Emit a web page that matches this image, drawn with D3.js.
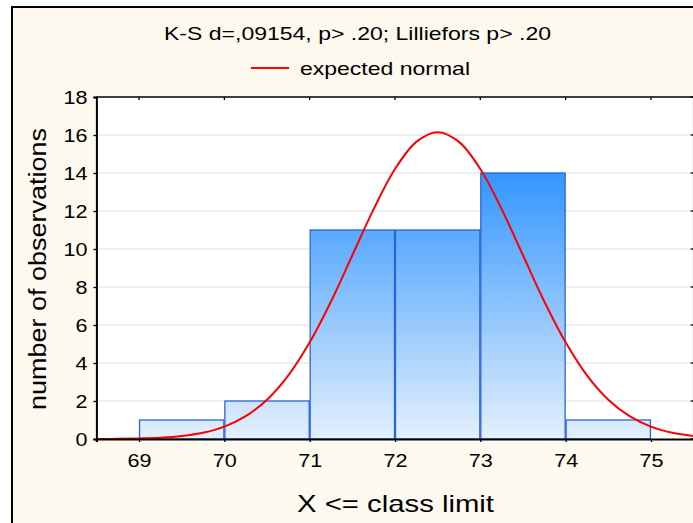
<!DOCTYPE html>
<html><head><meta charset="utf-8">
<script src="https://cdn.jsdelivr.net/npm/d3@7"></script>
<style>
html,body{margin:0;padding:0;background:#fff;}
text{font-family:"Liberation Sans",Arial,sans-serif;fill:#000;}
</style></head>
<body>
<script>
// ---- data ----
const binStart = [69, 70, 71, 72, 73, 74];
const binEnd   = [70, 71, 72, 73, 74, 75];
const counts   = [1, 2, 11, 11, 14, 1];
const xTicks = [69, 70, 71, 72, 73, 74, 75];
const yTicks = [0, 2, 4, 6, 8, 10, 12, 14, 16, 18];
// expected normal curve
const curveX = [68.5,68.75,69,69.25,69.5,69.75,70,70.25,70.5,70.75,71,71.25,71.5,71.75,72,72.25,72.5,72.75,73,73.25,73.5,73.75,74,74.25,74.5,74.75,75,75.25,75.5];
const curveY = [0.00,0.01,0.03,0.07,0.16,0.33,0.65,1.20,2.07,3.35,5.09,7.24,9.67,12.10,14.21,15.64,16.15,15.64,14.21,12.10,9.67,7.24,5.09,3.35,2.07,1.20,0.65,0.33,0.16];
const titleText = "K-S d=,09154, p> .20; Lilliefors p> .20";
const legendText = "expected normal";
const xTitle = "X <= class limit";
const yTitle = "number of observations";

const W = 693, H = 523;
const svg = d3.select("body").append("svg").attr("width", W).attr("height", H);
const defs = svg.append("defs");

// frame
svg.append("rect").attr("x", 12).attr("y", 7).attr("width", 720).attr("height", 540)
  .attr("fill", "#fdf9ee").attr("stroke", "#000").attr("stroke-width", 2);

const plot = {left: 96.4, right: 693.6, top: 97, bottom: 439};
const x = d3.scaleLinear().domain([68.5, 75.5]).range([plot.left, plot.right]);
const y = d3.scaleLinear().domain([0, 18]).range([plot.bottom, plot.top]);

const grad = defs.append("linearGradient").attr("id", "barGrad")
  .attr("gradientUnits", "userSpaceOnUse")
  .attr("x1", 0).attr("x2", 0).attr("y1", y(14)).attr("y2", y(0));
grad.append("stop").attr("offset", "0%").attr("stop-color", "#3396fe");
grad.append("stop").attr("offset", "100%").attr("stop-color", "#e4f0fc");

defs.append("clipPath").attr("id", "clip").append("rect")
  .attr("x", plot.left).attr("y", plot.top).attr("width", plot.right - plot.left).attr("height", plot.bottom - plot.top);

// plot background
svg.append("rect").attr("x", plot.left).attr("y", plot.top)
  .attr("width", plot.right - plot.left).attr("height", plot.bottom - plot.top).attr("fill", "#fff");

// gridlines
svg.append("g").selectAll("line").data(yTicks.filter(d => d > 0 && d < 18)).join("line")
  .attr("x1", plot.left).attr("x2", plot.right)
  .attr("y1", d => y(d)).attr("y2", d => y(d))
  .attr("stroke", "#e0e0e0").attr("stroke-width", 1.2);

// bars
svg.append("g").selectAll("rect").data(counts).join("rect")
  .attr("x", (d, i) => x(binStart[i]) + 0.5)
  .attr("y", d => y(d))
  .attr("width", (d, i) => x(binEnd[i]) - x(binStart[i]) - 1)
  .attr("height", d => y(0) - y(d))
  .attr("fill", "url(#barGrad)")
  .attr("stroke", "#2b64d8").attr("stroke-width", 1.3);

// curve
const line = d3.line().x((d, i) => x(curveX[i])).y(d => y(d)).curve(d3.curveCatmullRom);
svg.append("path").datum(curveY).attr("d", line)
  .attr("fill", "none").attr("stroke", "#ff0000").attr("stroke-width", 2)
  .attr("clip-path", "url(#clip)");

// frame lines of plot
svg.append("line").attr("x1", plot.right).attr("x2", plot.right).attr("y1", plot.top).attr("y2", plot.bottom)
  .attr("stroke", "#b0b0b0").attr("stroke-width", 1.5);
svg.append("line").attr("x1", plot.left).attr("x2", plot.right).attr("y1", plot.top).attr("y2", plot.top)
  .attr("stroke", "#000").attr("stroke-width", 1.5);

// top ticks (inward)
svg.append("g").selectAll("line").data(xTicks).join("line")
  .attr("x1", d => x(d)).attr("x2", d => x(d)).attr("y1", plot.top).attr("y2", plot.top + 3)
  .attr("stroke", "#000").attr("stroke-width", 1.3);
// right ticks (inward)
svg.append("g").selectAll("line").data(yTicks).join("line")
  .attr("x1", plot.right).attr("x2", plot.right - 3).attr("y1", d => y(d)).attr("y2", d => y(d))
  .attr("stroke", "#000").attr("stroke-width", 1.3);

// left axis
const yAxis = d3.axisLeft(y).tickValues(yTicks).tickSize(3).tickPadding(6).tickFormat(d3.format("d"));
const gy = svg.append("g").attr("transform", `translate(${plot.left},0)`).call(yAxis);
gy.select(".domain").attr("stroke", "#000").attr("stroke-width", 2);
gy.selectAll(".tick line").attr("stroke", "#000").attr("stroke-width", 1.3);
gy.selectAll(".tick text").attr("font-size", 18.5).attr("font-family", "Liberation Sans, Arial, sans-serif")
  .attr("dy", "0.36em")
  .attr("textLength", function() { return 12 * this.textContent.length; })
  .attr("lengthAdjust", "spacingAndGlyphs");

// bottom axis
const xAxis = d3.axisBottom(x).tickValues(xTicks).tickSize(3).tickPadding(12).tickFormat(d3.format("d"));
const gx = svg.append("g").attr("transform", `translate(0,${plot.bottom})`).call(xAxis);
gx.select(".domain").attr("stroke", "#000").attr("stroke-width", 2.2);
gx.selectAll(".tick line").attr("stroke", "#000").attr("stroke-width", 1.3);
gx.selectAll(".tick text").attr("font-size", 18.5).attr("font-family", "Liberation Sans, Arial, sans-serif")
  .attr("textLength", function() { return 12 * this.textContent.length; })
  .attr("lengthAdjust", "spacingAndGlyphs");

// title
svg.append("text").attr("x", 357.5).attr("y", 39.5).attr("text-anchor", "middle")
  .attr("font-size", 18.5).attr("textLength", 387).attr("lengthAdjust", "spacingAndGlyphs").text(titleText);

// legend
svg.append("line").attr("x1", 251).attr("x2", 289).attr("y1", 68).attr("y2", 68)
  .attr("stroke", "#ff0000").attr("stroke-width", 2);
svg.append("text").attr("x", 300).attr("y", 75).attr("font-size", 18.5)
  .attr("textLength", 170).attr("lengthAdjust", "spacingAndGlyphs").text(legendText);

// axis titles
svg.append("text").attr("x", 395.5).attr("y", 512).attr("text-anchor", "middle").attr("font-size", 24)
  .attr("textLength", 197).attr("lengthAdjust", "spacingAndGlyphs").text(xTitle);
svg.append("text").attr("transform", "translate(46,269) rotate(-90)").attr("text-anchor", "middle").attr("font-size", 23)
  .attr("textLength", 282).attr("lengthAdjust", "spacingAndGlyphs").text(yTitle);
</script>
</body></html>
